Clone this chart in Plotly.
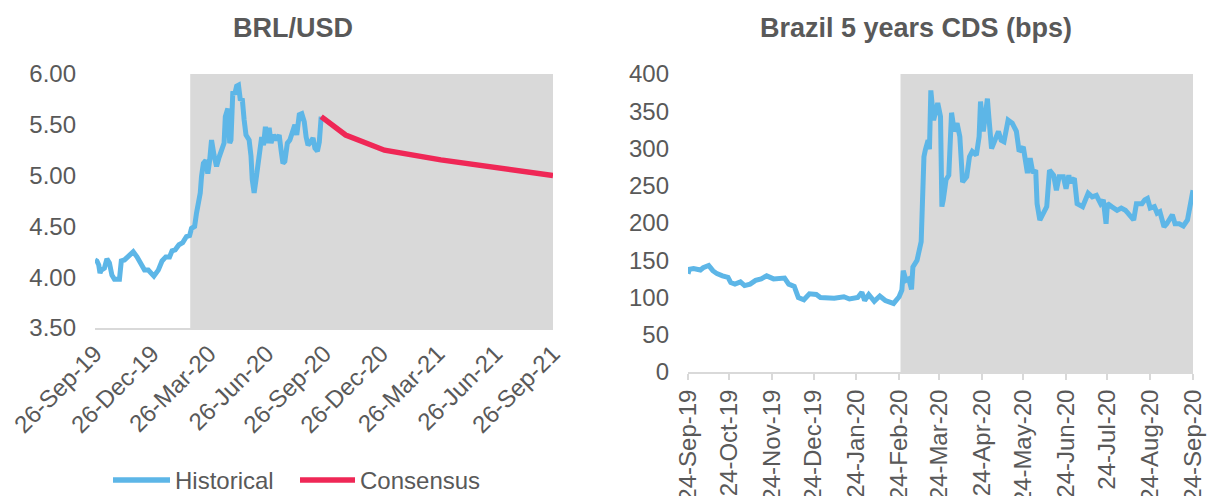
import plotly.graph_objects as go

# ---------------- DATA ----------------
BRL_DATES = [
    "2019-09-26", "2019-09-29", "2019-10-02", "2019-10-04", "2019-10-06", "2019-10-11", "2019-10-15",
    "2019-10-19", "2019-10-23", "2019-10-27", "2019-11-04", "2019-11-07", "2019-11-12", "2019-11-18",
    "2019-11-26", "2019-12-02", "2019-12-08", "2019-12-14", "2019-12-20", "2019-12-26", "2019-12-29",
    "2020-01-05", "2020-01-11", "2020-01-17", "2020-01-23", "2020-01-27", "2020-02-01", "2020-02-07",
    "2020-02-13", "2020-02-19", "2020-02-24", "2020-02-27", "2020-03-03", "2020-03-06", "2020-03-10",
    "2020-03-12", "2020-03-14", "2020-03-17", "2020-03-21", "2020-03-24", "2020-03-27", "2020-03-30",
    "2020-04-03", "2020-04-07", "2020-04-11", "2020-04-16", "2020-04-19", "2020-04-21", "2020-04-25",
    "2020-04-28", "2020-04-30", "2020-05-03", "2020-05-06", "2020-05-09", "2020-05-12", "2020-05-15",
    "2020-05-18", "2020-05-21", "2020-05-24", "2020-05-29", "2020-06-01", "2020-06-03", "2020-06-06",
    "2020-06-09", "2020-06-12", "2020-06-15", "2020-06-18", "2020-06-21", "2020-06-24", "2020-06-27",
    "2020-06-30", "2020-07-03", "2020-07-07", "2020-07-12", "2020-07-16", "2020-07-19", "2020-07-22",
    "2020-07-25", "2020-07-29", "2020-08-02", "2020-08-07", "2020-08-10", "2020-08-13", "2020-08-17",
    "2020-08-21", "2020-08-25", "2020-08-28", "2020-08-31", "2020-09-04", "2020-09-08", "2020-09-11",
    "2020-09-15", "2020-09-18", "2020-09-21",
]
BRL_VALUES = [
    4.17, 4.16, 4.12, 4.04, 4.07, 4.09, 4.18,
    4.14, 4.02, 3.98, 3.98, 4.16, 4.17, 4.21,
    4.25, 4.20, 4.13, 4.07, 4.07, 4.04, 4.01,
    4.07, 4.16, 4.20, 4.20, 4.26, 4.27, 4.32,
    4.34, 4.40, 4.41, 4.48, 4.50, 4.63, 4.73,
    4.83, 4.99, 5.12, 5.15, 5.02, 5.15, 5.35,
    5.20, 5.09, 5.18, 5.29, 5.32, 5.58, 5.66,
    5.32, 5.35, 5.83, 5.80, 5.88, 5.89, 5.74,
    5.76, 5.55, 5.40, 5.35, 5.19, 4.96, 4.83,
    4.96, 5.14, 5.25, 5.38, 5.30, 5.48, 5.32,
    5.47, 5.32, 5.40, 5.35, 5.40, 5.25, 5.12,
    5.14, 5.32, 5.35, 5.47, 5.50, 5.40, 5.60,
    5.61, 5.53, 5.38, 5.30, 5.33, 5.37, 5.27,
    5.24, 5.33, 5.58,
]
CONS_DATES = ["2020-09-21", "2020-10-30", "2020-12-31", "2021-03-31", "2021-09-26"]
CONS_VALUES = [5.58, 5.40, 5.25, 5.155, 5.00]

CDS_DATES = [
    "2019-09-24", "2019-09-25", "2019-09-28", "2019-10-03", "2019-10-05", "2019-10-09", "2019-10-12",
    "2019-10-15", "2019-10-19", "2019-10-23", "2019-10-25", "2019-10-28", "2019-11-01", "2019-11-04",
    "2019-11-08", "2019-11-12", "2019-11-16", "2019-11-20", "2019-11-25", "2019-11-29", "2019-12-03",
    "2019-12-06", "2019-12-10", "2019-12-13", "2019-12-17", "2019-12-21", "2019-12-26", "2019-12-29",
    "2020-01-02", "2020-01-08", "2020-01-15", "2020-01-19", "2020-01-25", "2020-01-28", "2020-01-30",
    "2020-02-02", "2020-02-06", "2020-02-10", "2020-02-14", "2020-02-20", "2020-02-24", "2020-02-26",
    "2020-02-27", "2020-02-29", "2020-03-02", "2020-03-04", "2020-03-05", "2020-03-08", "2020-03-11",
    "2020-03-12", "2020-03-13", "2020-03-14", "2020-03-16", "2020-03-17", "2020-03-18", "2020-03-20",
    "2020-03-22", "2020-03-23", "2020-03-25", "2020-03-26", "2020-03-27", "2020-03-29", "2020-03-31",
    "2020-04-02", "2020-04-04", "2020-04-06", "2020-04-08", "2020-04-10", "2020-04-13", "2020-04-15",
    "2020-04-17", "2020-04-20", "2020-04-22", "2020-04-23", "2020-04-25", "2020-04-28", "2020-04-29",
    "2020-05-01", "2020-05-03", "2020-05-06", "2020-05-08", "2020-05-10", "2020-05-13", "2020-05-16",
    "2020-05-19", "2020-05-21", "2020-05-24", "2020-05-26", "2020-05-27", "2020-05-29", "2020-05-31",
    "2020-06-02", "2020-06-03", "2020-06-05", "2020-06-08", "2020-06-10", "2020-06-12", "2020-06-15",
    "2020-06-17", "2020-06-19", "2020-06-22", "2020-06-24", "2020-06-26", "2020-06-27", "2020-06-30",
    "2020-07-02", "2020-07-06", "2020-07-10", "2020-07-13", "2020-07-16", "2020-07-19", "2020-07-21",
    "2020-07-23", "2020-07-24", "2020-07-27", "2020-07-31", "2020-08-03", "2020-08-06", "2020-08-08",
    "2020-08-12", "2020-08-14", "2020-08-18", "2020-08-20", "2020-08-22", "2020-08-24", "2020-08-27",
    "2020-08-29", "2020-08-31", "2020-09-03", "2020-09-05", "2020-09-09", "2020-09-11", "2020-09-14",
    "2020-09-17", "2020-09-20", "2020-09-22", "2020-09-24",
]
CDS_VALUES = [
    132, 138, 139, 137, 140, 143, 136,
    132, 129, 127, 120, 118, 121, 116,
    118, 123, 125, 129, 125, 125, 126,
    118, 115, 100, 97, 105, 104, 100,
    99, 99, 101, 98, 100, 107, 96,
    104, 95, 102, 96, 92, 101, 110,
    136, 123, 125, 111, 141, 150, 175,
    249, 289, 298, 311, 299, 378, 338,
    352, 361, 343, 222, 231, 258, 264,
    348, 323, 334, 316, 255, 262, 289,
    296, 291, 316, 363, 323, 367, 343,
    300, 309, 323, 311, 309, 338, 334,
    323, 296, 302, 284, 267, 287, 267,
    271, 226, 204, 213, 222, 271, 264,
    244, 262, 262, 246, 264, 255, 260,
    226, 222, 240, 235, 237, 226, 231,
    199, 226, 222, 217, 220, 217, 213,
    204, 226, 226, 231, 233, 220, 222,
    213, 215, 195, 199, 211, 199, 199,
    196, 204, 222, 244,
]

SHADE_START = "2020-02-25"
BRL_RANGE_X = ["2019-09-26", "2021-09-26"]
CDS_RANGE_X = ["2019-09-24", "2020-09-24"]

BRL_TICKVALS = ["2019-09-26", "2019-12-26", "2020-03-26", "2020-06-26", "2020-09-26",
                "2020-12-26", "2021-03-26", "2021-06-26", "2021-09-26"]
BRL_TICKTEXT = ["26-Sep-19", "26-Dec-19", "26-Mar-20", "26-Jun-20", "26-Sep-20",
                "26-Dec-20", "26-Mar-21", "26-Jun-21", "26-Sep-21"]
CDS_TICKVALS = ["2019-09-24", "2019-10-24", "2019-11-24", "2019-12-24", "2020-01-24",
                "2020-02-24", "2020-03-24", "2020-04-24", "2020-05-24", "2020-06-24",
                "2020-07-24", "2020-08-24", "2020-09-24"]
CDS_TICKTEXT = ["24-Sep-19", "24-Oct-19", "24-Nov-19", "24-Dec-19", "24-Jan-20",
                "24-Feb-20", "24-Mar-20", "24-Apr-20", "24-May-20", "24-Jun-20",
                "24-Jul-20", "24-Aug-20", "24-Sep-20"]
LEGEND_NAMES = ["Historical", "Consensus"]

# ---------------- STYLE ----------------
FONT = "Liberation Sans, Arial, sans-serif"
TXT = "#595959"
BLUE = "#5DB6E7"
RED = "#EF2756"
SHADE = "#D9D9D9"
AXIS = "#D9D9D9"
W, H = 1210, 496

fig = go.Figure()

fig.add_trace(go.Scatter(x=BRL_DATES, y=BRL_VALUES, mode="lines", name=LEGEND_NAMES[0],
                         line=dict(color=BLUE, width=5), xaxis="x", yaxis="y"))
fig.add_trace(go.Scatter(x=CONS_DATES, y=CONS_VALUES, mode="lines", name=LEGEND_NAMES[1],
                         line=dict(color=RED, width=5.5), xaxis="x", yaxis="y"))
fig.add_trace(go.Scatter(x=CDS_DATES, y=CDS_VALUES, mode="lines", name="CDS",
                         line=dict(color=BLUE, width=5), xaxis="x2", yaxis="y2"))

# shaded regions
fig.add_shape(type="rect", xref="x", yref="y", x0=SHADE_START, x1=BRL_RANGE_X[1],
              y0=3.5, y1=6.0, fillcolor=SHADE, line_width=0, layer="below")
fig.add_shape(type="rect", xref="x2", yref="y2", x0=SHADE_START, x1=CDS_RANGE_X[1],
              y0=0, y1=400, fillcolor=SHADE, line_width=0, layer="below")

# custom legend (longer line samples, like the reference)
leg_y = 1 - 480 / H
for (xa, xb, xt, name, col) in [(113, 170, 173, LEGEND_NAMES[0], BLUE),
                                (300, 355, 358, LEGEND_NAMES[1], RED)]:
    fig.add_shape(type="line", xref="paper", yref="paper", x0=xa / W, x1=xb / W,
                  y0=leg_y, y1=leg_y, line=dict(color=col, width=5.5))
    fig.add_annotation(text=name, x=xt / W, y=leg_y, xref="paper", yref="paper",
                       showarrow=False, xanchor="left", yanchor="middle",
                       font=dict(family=FONT, size=24, color=TXT))

tickfont = dict(family=FONT, size=24, color=TXT)

fig.update_layout(
    width=W, height=H,
    margin=dict(l=0, r=0, t=0, b=0),
    paper_bgcolor="white", plot_bgcolor="white",
    font=dict(family=FONT, color=TXT),
    showlegend=False,
    xaxis=dict(domain=[95 / W, 553 / W], type="date", range=BRL_RANGE_X,
               tickvals=BRL_TICKVALS, ticktext=BRL_TICKTEXT, tickangle=-45,
               tickfont=tickfont, showgrid=False, zeroline=False,
               showline=True, linecolor=AXIS, linewidth=2, ticks="",
               automargin=False, anchor="y"),
    yaxis=dict(domain=[1 - 328 / H, 1 - 74 / H], range=[3.5, 6.0], dtick=0.5,
               tickformat=".2f", tickfont=tickfont, showgrid=False, zeroline=False,
               showline=False, ticks="", ticklabelstandoff=18, automargin=False,
               anchor="x"),
    xaxis2=dict(domain=[688 / W, 1193 / W], type="date", range=CDS_RANGE_X,
                tickvals=CDS_TICKVALS, ticktext=CDS_TICKTEXT, tickangle=-90,
                tickfont=tickfont, showgrid=False, zeroline=False,
                showline=True, linecolor=AXIS, linewidth=2, ticks="outside",
                ticklen=6, tickcolor=AXIS, tickwidth=1.5, automargin=False,
                anchor="y2"),
    yaxis2=dict(domain=[1 - 372 / H, 1 - 74 / H], range=[0, 400], dtick=50,
                tickfont=tickfont, showgrid=False, zeroline=False, showline=False,
                ticks="", ticklabelstandoff=18, automargin=False, anchor="x2"),
)
fig.add_annotation(text="<b>BRL/USD</b>", x=293 / W, y=1 - 28 / H, xref="paper",
                   yref="paper", showarrow=False, xanchor="center", yanchor="middle",
                   font=dict(family=FONT, size=27, color=TXT))
fig.add_annotation(text="<b>Brazil 5 years CDS (bps)</b>", x=916 / W, y=1 - 28 / H,
                   xref="paper", yref="paper", showarrow=False, xanchor="center",
                   yanchor="middle", font=dict(family=FONT, size=27, color=TXT))

fig.write_html("out.html", config={"displayModeBar": False},
               post_script="document.body.style.margin='0px';document.body.style.overflow='hidden';")
